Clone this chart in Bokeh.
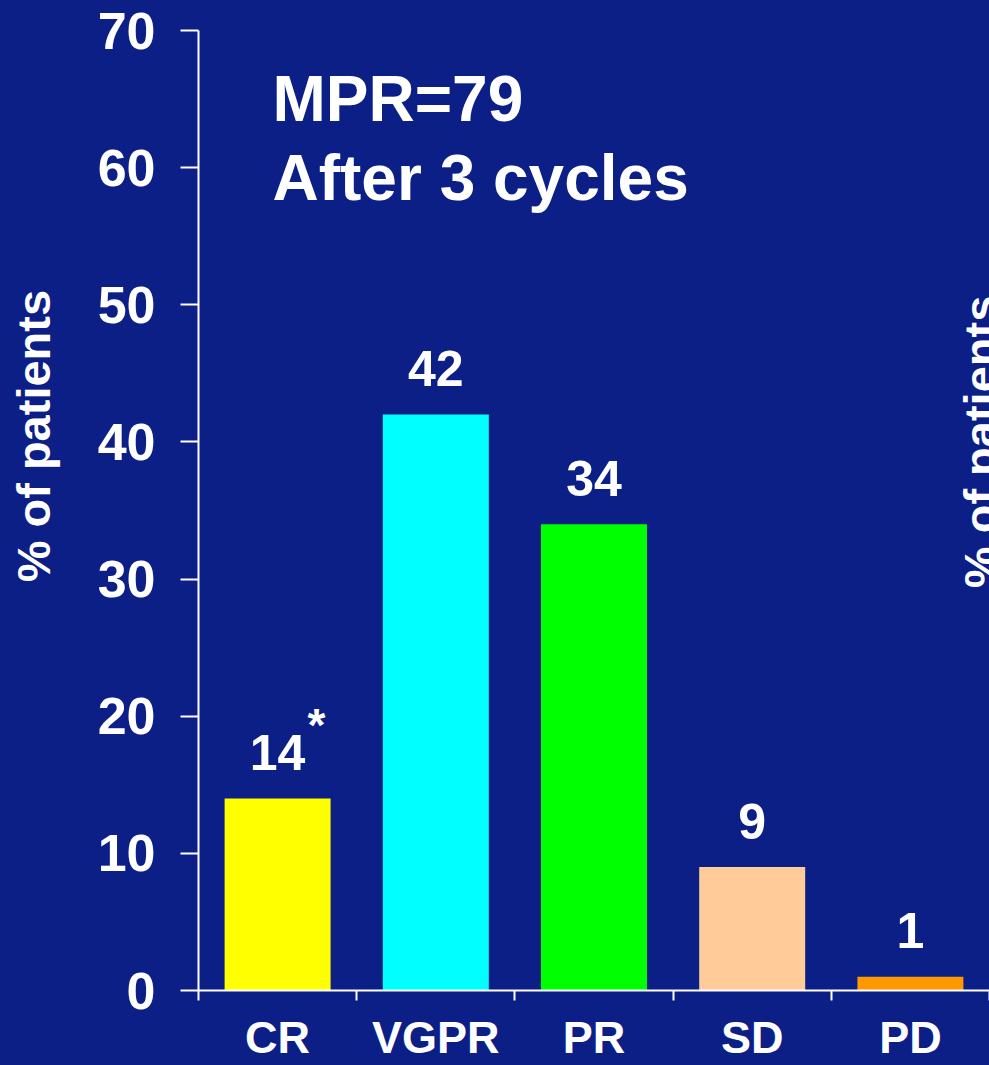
from bokeh.plotting import figure
from bokeh.layouts import row
from bokeh.models import ColumnDataSource, FixedTicker, Range1d, Label
from bokeh.core.properties import value
from bokeh.embed import file_html
from bokeh.resources import INLINE

# ---- data ----
categories = ["CR", "VGPR", "PR", "SD", "PD"]
percent = [14, 42, 34, 9, 1]
notes = ["*", "", "", "", ""]
bar_colors = ["#FFFF00", "#00FFFF", "#00FF00", "#FFCC99", "#FF9900"]
y_ticks = [0, 10, 20, 30, 40, 50, 60, 70]
title_lines = ["MPR=79", "After 3 cycles"]
y_label = "% of patients"

BG = "#0b1f86"
FONT = "Liberation Sans"
LEFT_W = 90
TOTAL_W = 989
TOTAL_H = 1065

centers = [i + 0.5 for i in range(len(categories))]
src = ColumnDataSource(dict(x=centers, top=percent, color=bar_colors,
                            label=[str(v) for v in percent], note=notes))


def paint_bg(fig):
    # background drawn by CSS so the canvas shows no seams at the frame edges
    fig.border_fill_color = None
    fig.background_fill_color = None
    fig.outline_line_color = None
    fig.styles = {"background-color": BG}


# ---- narrow strip holding the left axis title ----
p0 = figure(width=LEFT_W, height=TOTAL_H, output_backend="svg", toolbar_location=None,
            x_range=Range1d(0, LEFT_W), y_range=Range1d(TOTAL_H, 0),
            x_axis_type=None, y_axis_type=None, min_border=0)
paint_bg(p0)
p0.add_layout(Label(x=33, y=450, text=y_label, angle=90, angle_units="deg",
                    text_color="white", text_font=FONT, text_font_style="bold",
                    text_font_size="47px", text_align="center",
                    text_baseline="middle"))

# ---- main chart ----
p = figure(width=TOTAL_W - LEFT_W, height=TOTAL_H, output_backend="svg",
           toolbar_location=None,
           x_range=Range1d(0, len(categories)), y_range=Range1d(0, 70),
           min_border_left=198 - LEFT_W, min_border_right=0, min_border_top=30,
           min_border_bottom=75)
paint_bg(p)
p.xgrid.visible = False
p.ygrid.visible = False

p.vbar(x="x", top="top", width=0.67, color="color", line_color=None, source=src)

p.text(x="x", y="top", text="label", source=src, text_align="center",
       text_baseline="alphabetic", y_offset=-46, text_color="white",
       text_font=value(FONT), text_font_style="bold", text_font_size="50px")
p.text(x="x", y="top", text="note", source=src, text_align="left",
       text_baseline="alphabetic", x_offset=30, y_offset=-74, text_color="white",
       text_font=value(FONT), text_font_style="bold", text_font_size="46px")

# y axis
ya = p.yaxis[0]
ya.ticker = FixedTicker(ticks=y_ticks)
ya.major_label_overrides = {t: str(t) for t in y_ticks}
ya.axis_line_color = "white"
ya.axis_line_width = 2
ya.major_tick_line_color = "white"
ya.major_tick_line_width = 2
ya.major_tick_out = 18
ya.major_tick_in = 0
ya.minor_tick_line_color = None
ya.major_label_standoff = 25
ya.major_label_text_color = "white"
ya.major_label_text_font = FONT
ya.major_label_text_font_style = "bold"
ya.major_label_text_font_size = "52px"

# x axis: labels at centres, ticks at category boundaries
xa = p.xaxis[0]
xa.ticker = FixedTicker(ticks=centers, minor_ticks=list(range(len(categories) + 1)))
xa.major_label_overrides = {c: lab for c, lab in zip(centers, categories)}
xa.axis_line_color = "white"
xa.axis_line_width = 2
xa.major_tick_out = 0
xa.major_tick_in = 0
xa.major_tick_line_color = None
xa.minor_tick_line_color = "white"
xa.minor_tick_line_width = 2
xa.minor_tick_out = 10
xa.minor_tick_in = 0
xa.major_label_standoff = 11
xa.major_label_text_color = "white"
xa.major_label_text_font = FONT
xa.major_label_text_font_style = "bold"
xa.major_label_text_font_size = "45px"

# title lines
for txt, yy in zip(title_lines, [65.04, 59.28]):
    p.add_layout(Label(x=0.4678, y=yy, text=txt, text_color="white",
                       text_font=FONT, text_font_style="bold",
                       text_font_size="64px", text_baseline="alphabetic",
                       text_align="left"))

# axis title of the neighbouring chart, cut by the right edge
p.add_layout(Label(x=4.946, y=40.0, text=y_label, angle=90, angle_units="deg",
                   text_color="white", text_font=FONT, text_font_style="bold",
                   text_font_size="47px", text_align="center",
                   text_baseline="middle"))

layout = row(p0, p)
layout.styles = {"background-color": BG}
open("out.html", "w").write(file_html(layout, INLINE))
